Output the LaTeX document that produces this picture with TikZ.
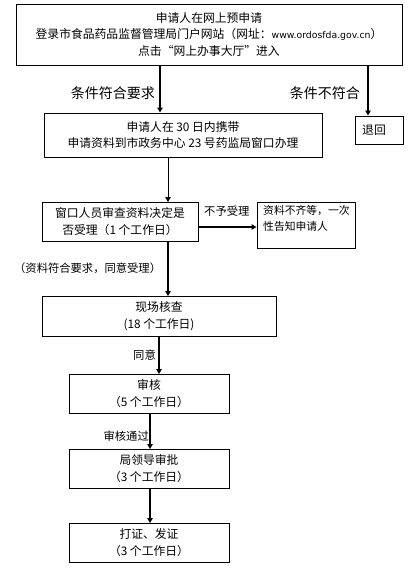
\documentclass[tikz,border=0pt]{standalone}
\usepackage{fontspec}
\setmainfont{Noto Sans CJK SC}
\newfontfamily\urlfont{DejaVu Sans}
\usetikzlibrary{arrows.meta}
\begin{document}
\begin{tikzpicture}[x=1pt,y=-1pt,
  box/.style={draw=black,line width=1pt,inner sep=0pt},
  txt/.style={inner sep=0pt,font=\fontsize{11.8}{16.5}\selectfont,align=center},
  lbl/.style={inner sep=0pt,font=\fontsize{11.3}{13}\selectfont},
  biglbl/.style={inner sep=0pt,font=\fontsize{14}{16}\selectfont},
  arr/.style={line width=2pt,-{Triangle[length=5pt,width=5.5pt]}},
  thinarr/.style={line width=1pt,-{Triangle[length=5pt,width=5.5pt]}}]
\useasboundingbox[fill=white] (0,0) rectangle (420,571);
% boxes
\node[box,minimum width=386pt,minimum height=61pt] (b1) at (209,34.5) {};
\node[txt] (t1) at (b1) {申请人在网上预申请\\登录市食品药品监督管理局门户网站（网址：{\urlfont\fontsize{9.3}{16.5}\selectfont www.ordosfda.gov.cn}）\\点击“网上办事大厅”进入};
\coordinate (b1a) at (160,65);
\coordinate (b1b) at (368,65);

\node[box,minimum width=278pt,minimum height=44pt] (b2) at (183,135) {};
\node[txt] at (b2) {申请人在 30 日内携带\\申请资料到市政务中心 23 号药监局窗口办理};

\node[box,minimum width=48pt,minimum height=28pt] (b3) at (379,130) {};
\node[txt,anchor=west] at (362,130) {退回};

\node[box,minimum width=156pt,minimum height=39pt] (b4) at (120,221.5) {};
\node[txt] at (b4) {窗口人员审查资料决定是\\否受理（1 个工作日）};

\node[box,minimum width=98pt,minimum height=46pt] (b5) at (306,225) {};
\node[txt,align=left,anchor=north west,font=\fontsize{10.8}{16.5}\selectfont] at (263,205) {资料不齐等，一次\\性告知申请人};

\node[box,minimum width=234pt,minimum height=40pt] (b6) at (159,316) {};
\node[txt] at (b6) {现场核查\\(18 个工作日)};

\node[box,minimum width=160pt,minimum height=39pt] (b7) at (149,393.5) {};
\node[txt] at (b7) {审核\\（5 个工作日）};

\node[box,minimum width=160pt,minimum height=39pt] (b8) at (149,468.5) {};
\node[txt] at (b8) {局领导审批\\（3 个工作日）};

\node[box,minimum width=160pt,minimum height=39pt] (b9) at (149,542.5) {};
\node[txt] at (b9) {打证、发证\\（3 个工作日）};

% arrows
\draw[arr] (b1a) -- (b1a |- b2.north);
\draw[arr] (b1b) -- (b1b |- b3.north);
\draw[thinarr] (168,157) -- (168,202);
\draw[arr] (b4.east |- 0,227) -- (b5.west |- 0,227);
\draw[arr] (168,241) -- (168,296);
\draw[arr] (159,336) -- (159,374);
\draw[arr] (150,413) -- (150,449);
\draw[arr] (150,488) -- (150,523);

% labels
\node[biglbl,anchor=east] at (155,93) {条件符合要求};
\node[biglbl,anchor=east] at (360,93) {条件不符合};
\node[lbl,anchor=west] at (204,211) {不予受理};
\node[lbl,anchor=west] at (14,268) {（资料符合要求，同意受理）};
\node[lbl,anchor=east] at (156,355) {同意};
\node[lbl,anchor=east] at (149,436) {审核通过};
\end{tikzpicture}
\end{document}
